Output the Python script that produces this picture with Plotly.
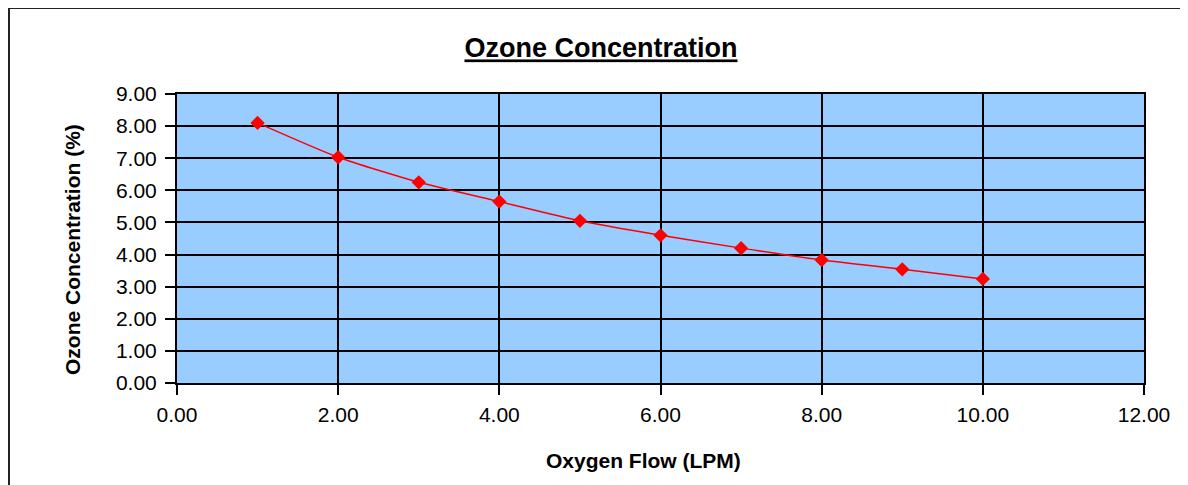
import plotly.graph_objects as go

oxygen_flow = [1, 2, 3, 4, 5, 6, 7, 8, 9, 10]
ozone_pct = [8.10, 7.03, 6.25, 5.65, 5.05, 4.60, 4.20, 3.83, 3.54, 3.24]

x_ticks = [0, 2, 4, 6, 8, 10, 12]
y_ticks = [0, 1, 2, 3, 4, 5, 6, 7, 8, 9]

FONT = "Liberation Sans, Arial, sans-serif"

# page has an 8px body margin; layout numbers below are in figure pixels
W, H = 1188, 485
L, R, T, B = 169, 52, 86, 110
PW, PH = W - L - R, H - T - B


def px_x(x):
    return (x - L) / PW


def px_y(y):
    return 1 - (y - T) / PH


fig = go.Figure()
fig.add_trace(go.Scatter(
    x=oxygen_flow, y=ozone_pct, mode="lines+markers",
    line=dict(color="#FF0000", width=1.5, shape="spline", smoothing=0.6),
    marker=dict(symbol="diamond", size=11, color="#FF0000"),
    showlegend=False,
))

fig.update_layout(
    width=W, height=H,
    margin=dict(l=L, r=R, t=T, b=B),
    paper_bgcolor="white", plot_bgcolor="#99CCFF",
    font=dict(family=FONT, size=21, color="black"),
    title=dict(text="<b><u>Ozone Concentration</u></b>", x=593 / W, xanchor="center",
               y=1 - 40 / H, yanchor="middle", font=dict(size=27, family=FONT)),
    xaxis=dict(range=[0, 12], tickvals=x_ticks, ticktext=[f"{v:.2f}" for v in x_ticks],
               showgrid=True, gridcolor="black", gridwidth=2, zeroline=False,
               showline=True, linecolor="black", linewidth=2, mirror=True,
               ticks="outside", ticklen=10, tickwidth=2, tickcolor="black",
               ticklabelstandoff=2),
    yaxis=dict(range=[0, 9], tickvals=y_ticks, ticktext=[f"{v:.2f}" for v in y_ticks],
               showgrid=True, gridcolor="black", gridwidth=2, zeroline=False,
               showline=True, linecolor="black", linewidth=2, mirror=True,
               ticks="outside", ticklen=10, tickwidth=2, tickcolor="black",
               ticklabelstandoff=4),
)

fig.add_annotation(text="<b>Oxygen Flow (LPM)</b>", xref="paper", yref="paper",
                   x=px_x(635), y=px_y(452), xanchor="center", yanchor="middle",
                   showarrow=False, font=dict(size=21, family=FONT))
fig.add_annotation(text="<b>Ozone Concentration (%)</b>", xref="paper", yref="paper",
                   x=px_x(64), y=px_y(242), xanchor="center", yanchor="middle",
                   textangle=-90, showarrow=False, font=dict(size=21, family=FONT))

# outer chart border (extends beyond the visible image on right and bottom)
fig.add_shape(type="rect", xref="paper", yref="paper",
              x0=px_x(1), x1=px_x(1250),
              y0=px_y(560), y1=px_y(0),
              line=dict(color="#222222", width=2), layer="below")

fig.write_html("out.html")
